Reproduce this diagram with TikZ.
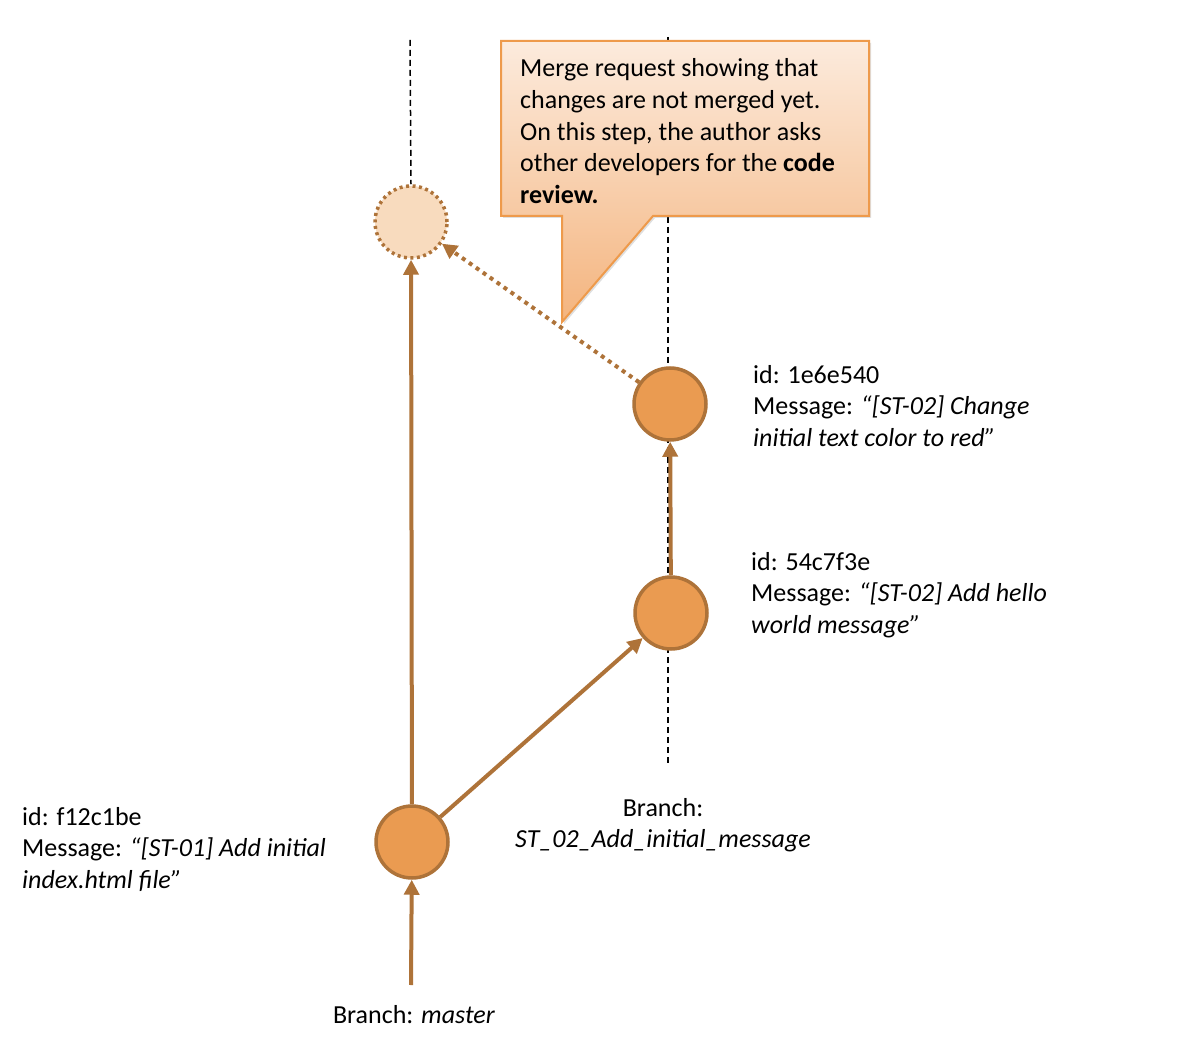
\documentclass[tikz,border=0pt]{standalone}
\usepackage{fontspec}
\setmainfont{Carlito}
\usetikzlibrary{arrows.meta,shadows}
\definecolor{nodefill}{HTML}{EA9B51}
\definecolor{nodeedge}{HTML}{AE7339}
\definecolor{ghostfill}{HTML}{F8DBBE}
\definecolor{calledge}{HTML}{EE9A4B}
\definecolor{calltop}{HTML}{FCEBDD}
\definecolor{callbot}{HTML}{F4B47E}
\tikzset{
  commit/.style={circle, minimum size=72pt, inner sep=0pt, fill=nodefill, draw=nodeedge, line width=3.5pt},
  ghost/.style={circle, minimum size=72pt, inner sep=0pt, fill=ghostfill, draw=nodeedge, line width=3.5pt, dash pattern=on 3pt off 3.5pt},
  link/.style={draw=nodeedge, line width=4pt, -{Triangle[length=15pt,width=15pt]}},
  guide/.style={black, line width=1.5pt, dash pattern=on 6pt off 4pt},
  lbl/.style={anchor=north west, inner sep=0pt, align=left, font=\fontsize{26}{31.7}\selectfont},
}
\begin{document}
\begin{tikzpicture}[x=1pt,y=-1pt]
\useasboundingbox (0,0) rectangle (1179,1040);
% guide lines
\coordinate (g1t) at (410,40);
\coordinate (g2t) at (668,37);
\coordinate (g2b) at (668,765);
\node[ghost] (mr) at (411,222) {};
\draw[guide] (g1t) -- (mr.north);
\draw[guide] (g2t) -- (g2b);
% callout
\shade[top color=calltop, bottom color=callbot, draw=calledge, line width=2pt,
  drop shadow={opacity=0.25, shadow xshift=2pt, shadow yshift=-2pt}]
  (501,41) -- (869,41) -- (869,216) -- (653,216) -- (562,322) -- (562,216) -- (501,216) -- cycle;
\node[lbl] (note) at (520,58.5) {Merge request showing that\\changes are not merged yet.\\On this step, the author asks\\other developers for the \textbf{code}\\\textbf{review.}};
% commits
\node[commit] (c1) at (412,842) {};
\node[commit] (c2) at (671,613) {};
\node[commit] (c3) at (670,404) {};
\coordinate (ms) at (411,985);
% connectors
\draw[link] (ms) -- (c1);
\draw[link] (c1) -- (mr);
\draw[link] (c1) -- (c2);
\draw[link] (c2) -- (c3);
\draw[link, dash pattern=on 4pt off 4.5pt] (c3) -- (mr);
% labels
\node[lbl] (l3) at (753,365) {id: 1e6e540\\Message: \textit{“[ST-02] Change}\\\textit{initial text color to red”}};
\node[lbl] (l2) at (751,552) {id: 54c7f3e\\Message: \textit{“[ST-02] Add hello}\\\textit{world message”}};
\node[lbl] (l1) at (22,807) {id: f12c1be\\Message: \textit{“[ST-01] Add initial}\\\textit{index.html file”}};
\node[lbl, align=center, anchor=north] (br2) at (663,798) {Branch:\\\textit{ST\_02\_Add\_initial\_message}};
\node[lbl, anchor=north] (br1) at (414,1005) {Branch: \textit{master}};
\end{tikzpicture}
\end{document}
